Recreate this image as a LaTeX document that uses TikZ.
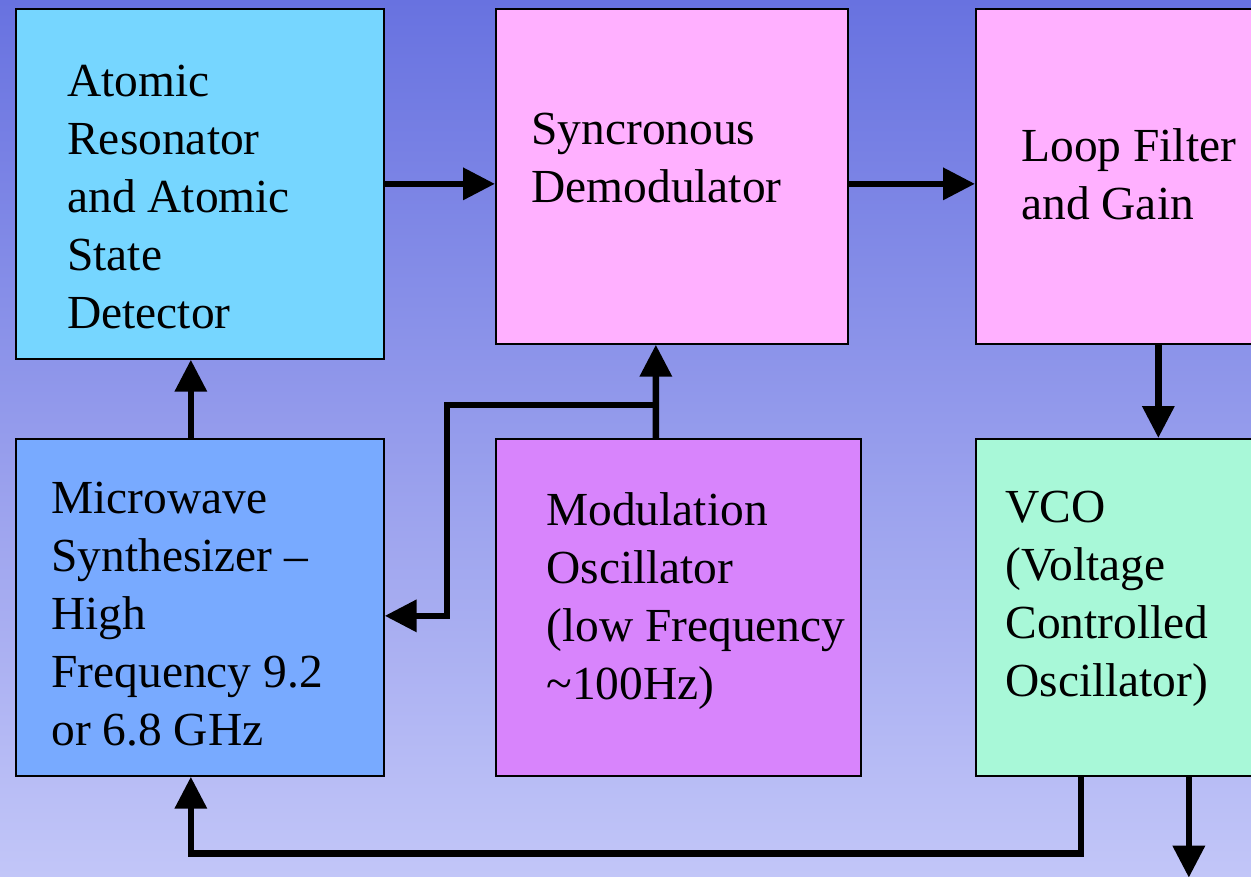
\documentclass[tikz,border=0pt]{standalone}
\usepackage{fontspec}
\setmainfont{Liberation Serif}
\usetikzlibrary{arrows.meta}
\definecolor{bgtop}{RGB}{104,114,224}
\definecolor{bgbot}{RGB}{194,198,248}
\definecolor{atomfill}{RGB}{118,214,255}
\definecolor{pinkfill}{RGB}{255,176,255}
\definecolor{synthfill}{RGB}{120,170,255}
\definecolor{modfill}{RGB}{216,132,252}
\definecolor{vcofill}{RGB}{168,248,216}

\begin{document}
\begin{tikzpicture}[x=0.02cm,y=-0.02cm,
		box/.style={draw,line width=1pt,anchor=north west,inner sep=0pt},
		lbl/.style={anchor=north west,align=left,inner sep=0pt,font=\fontsize{27}{33}\selectfont},
		wire/.style={line width=3.8pt},
		arr/.style={wire,-{Triangle[length=0.64cm,width=0.62cm]}}]
			\clip (0,0) rectangle (1251,876);
			\shade[top color=bgtop,bottom color=bgbot] (0,0) rectangle (1251,876);
		
			\node[box,fill=atomfill,minimum width=7.36cm,minimum height=7cm] (atom) at (15,8) {};
			\node[box,fill=pinkfill,minimum width=7.04cm,minimum height=6.7cm] (demod) at (495,8) {};
			\node[box,fill=pinkfill,minimum width=7.3cm,minimum height=6.7cm] (loop) at (975,8) {};
			\node[box,fill=synthfill,minimum width=7.36cm,minimum height=6.74cm] (synth) at (15,438) {};
			\node[box,fill=modfill,minimum width=7.3cm,minimum height=6.74cm] (modosc) at (495,438) {};
			\node[box,fill=vcofill,minimum width=7.3cm,minimum height=6.74cm] (vco) at (975,438) {};
		
			\node[lbl] (atomtxt) at (67,65) {Atomic\\Resonator\\and Atomic\\State\\Detector};
			\node[lbl] (demodtxt) at (531,113) {Syncronous\\Demodulator};
			\node[lbl] (looptxt) at (1021,128) {Loop Filter\\and Gain};
			\node[lbl] (synthtxt) at (51,482) {Microwave\\Synthesizer --\\High\\Frequency 9.2\\or 6.8 GHz};
			\node[lbl] (modtxt) at (546,492) {Modulation\\Oscillator\\(low Frequency\\\textasciitilde100Hz)};
			\node[lbl] (vcotxt) at (1005,491) {VCO\\(Voltage\\Controlled\\Oscillator)};
		
			\coordinate (split) at (655,405);
			\coordinate (bend) at (447,405);
		
			\draw[arr] (atom.east) -- (atom.east -| demod.west);
			\draw[arr] (atom.east -| demod.east) -- (atom.east -| loop.west);
			\draw[arr] (loop.south) -- (vco.north);
			\draw[arr] ([xshift=-0.18cm]synth.north) -- ([xshift=-0.18cm]atom.south);
			\draw[arr] ([xshift=-0.45cm]modosc.north) -- ([xshift=-0.32cm]demod.south);
			\draw[arr] (split) -- (bend) |- ([yshift=-0.17cm]synth.east);
			\draw[arr] ([xshift=-1.55cm]vco.south) -- ++(0,77) -| ([xshift=-0.18cm]synth.south);
			\draw[arr] ([xshift=0.61cm]vco.south) -- ++(0,101);
		\end{tikzpicture}
\end{document}
